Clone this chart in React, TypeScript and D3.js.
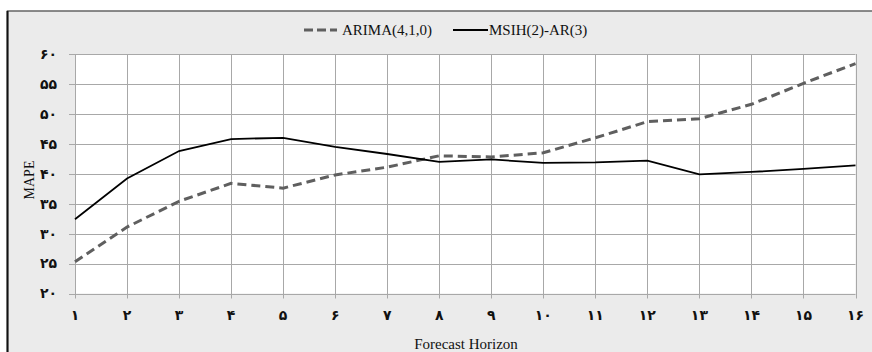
import React from "react";
import * as d3 from "d3";

const horizons = [1, 2, 3, 4, 5, 6, 7, 8, 9, 10, 11, 12, 13, 14, 15, 16];
const arima = [25.3, 31.1, 35.4, 38.4, 37.6, 39.8, 41.1, 43.0, 42.8, 43.5, 46.0, 48.7, 49.2, 51.6, 55.1, 58.4];
const msih = [32.4, 39.2, 43.8, 45.8, 46.0, 44.5, 43.3, 42.0, 42.4, 41.8, 41.9, 42.2, 39.9, 40.3, 40.8, 41.4];
const yTicks = [20, 25, 30, 35, 40, 45, 50, 55, 60];
const seriesNames = ["ARIMA(4,1,0)", "MSIH(2)-AR(3)"];
const xTitle = "Forecast Horizon";
const yTitle = "MAPE";

const faDigits = "۰۱۲۳۴۵۶۷۸۹";
const toFa = (n: number) => String(n).replace(/\d/g, (d) => faDigits[+d]);

export default function App() {
  const W = 872, H = 352;
  const left = 75, right = 855.5, top = 54, bottom = 293.5;
  const x = d3.scaleLinear().domain([1, 16]).range([left, right]);
  const y = d3.scaleLinear().domain([20, 60]).range([bottom, top]);
  const line = d3.line<number>().x((_, i) => x(horizons[i])).y((d) => y(d));
  const grid = "#a8a8a8";
  return (
    <svg width={W} height={H} style={{ position: "absolute", left: 0, top: 0 }}>
      <rect x={0} y={0} width={W} height={H} fill="#ffffff" />
      <rect x={7.5} y={11} width={W + 10} height={H + 10} fill="#ebebeb" stroke="#666" strokeWidth={1.5} />
      <line x1={7.5} x2={7.5} y1={11} y2={H} stroke="#111" strokeWidth={2} />
      <rect x={left} y={top} width={right - left} height={bottom - top} fill="#ffffff" />
      {yTicks.map((t) => (
        <g key={"y" + t}>
          <line x1={left - 6} x2={right} y1={Math.round(y(t)) + 0.5} y2={Math.round(y(t)) + 0.5} stroke={grid} strokeWidth={1} />
          <text x={57} y={y(t)} dy="0.35em" textAnchor="end" fontFamily="DejaVu Sans" fontWeight="bold" fontSize={14} fill="#111">
            {toFa(t)}
          </text>
        </g>
      ))}
      {horizons.map((h) => (
        <g key={"x" + h}>
          <line x1={Math.round(x(h)) + 0.5} x2={Math.round(x(h)) + 0.5} y1={top} y2={bottom + 5} stroke={grid} strokeWidth={1} />
          <text x={x(h)} y={315.5} dy="0.35em" textAnchor="middle" fontFamily="DejaVu Sans" fontWeight="bold" fontSize={14} fill="#111">
            {toFa(h)}
          </text>
        </g>
      ))}
      <path d={line(arima) || ""} fill="none" stroke="#5f5f5f" strokeWidth={3} strokeDasharray="9,5" />
      <path d={line(msih) || ""} fill="none" stroke="#000" strokeWidth={1.8} />
      <g fontFamily="Liberation Serif" fontSize={15} fill="#111">
        <line x1={304} x2={337} y1={30} y2={30} stroke="#5f5f5f" strokeWidth={3} strokeDasharray="9,4" />
        <text x={342} y={30} dy="0.35em">{seriesNames[0]}</text>
        <line x1={453} x2={488} y1={30} y2={30} stroke="#000" strokeWidth={1.8} />
        <text x={489} y={30} dy="0.35em">{seriesNames[1]}</text>
        <text x={466} y={344} dy="0.35em" textAnchor="middle">{xTitle}</text>
        <text transform={`translate(29,180) rotate(-90)`} dy="0.35em" textAnchor="middle" fontSize={14}>{yTitle}</text>
      </g>
    </svg>
  );
}
